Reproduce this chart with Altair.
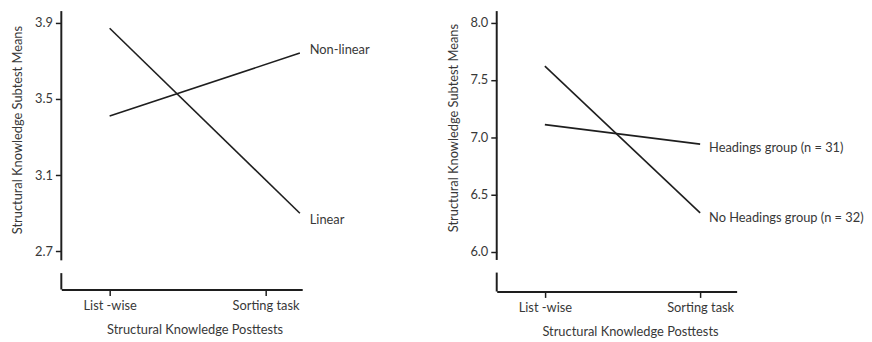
import altair as alt
import pandas as pd

# ---- data ----
posttests = ["List -wise", "Sorting task"]

left_groups = ["Linear", "Non-linear"]
left_linear = [3.87, 2.90]
left_nonlinear = [3.41, 3.74]
left_x = [0, 1.22]          # the left panel's lines run past the "Sorting task" tick
left_ticks = [2.7, 3.1, 3.5, 3.9]

right_groups = ["No Headings group (n = 32)", "Headings group (n = 31)"]
right_noheadings = [7.62, 6.34]
right_headings = [7.11, 6.94]
right_x = [0, 1]
right_ticks = [6.0, 6.5, 7.0, 7.5, 8.0]

FONT = "Lato"
INK = "#1e1e1e"
TXT = "#383838"
LBL = 13
TTL = 13

label_expr = "datum.value == 0 ? '%s' : '%s'" % (posttests[0], posttests[1])


def make_df(groups, series, xs):
    rows = []
    for g, vals in zip(groups, series):
        for x, v in zip(xs, vals):
            rows.append({"group": g, "pos": x, "value": v})
    return pd.DataFrame(rows)


def panel(groups, series, xs, ticks, ydomain, ybreak, label_offsets, width, height,
          title_y):
    df = make_df(groups, series, xs)
    xscale = alt.Scale(domain=[-0.31, 1.235], nice=False, zero=False)
    yscale = alt.Scale(domain=ydomain, nice=False, zero=False)

    x_axis = alt.Axis(values=[0, 1], labelExpr=label_expr,
                      title="Structural Knowledge Posttests",
                      domain=True, domainColor=INK, domainWidth=2,
                      ticks=True, tickColor=INK, tickWidth=1.5, tickSize=6,
                      labelFont=FONT, labelFontSize=LBL, labelColor=TXT,
                      labelPadding=4, titleFont=FONT, titleFontSize=TTL,
                      titleFontWeight="normal", titleColor=TXT, titlePadding=12,
                      titleX=135, grid=False)
    y_axis = alt.Axis(values=ticks, format=".1f",
                      title="Structural Knowledge Subtest Means",
                      domain=False, ticks=True, tickColor=INK, tickWidth=1.5,
                      tickSize=6, labelFont=FONT, labelFontSize=LBL,
                      labelColor=TXT, labelPadding=3, titleFont=FONT,
                      titleFontSize=TTL, titleFontWeight="normal",
                      titleColor=TXT, titlePadding=10, titleY=title_y,
                      grid=False)

    X = lambda f: alt.X(f, scale=xscale, axis=x_axis)
    Y = lambda f: alt.Y(f, scale=yscale, axis=y_axis)

    lines = alt.Chart(df).mark_line(color=INK, strokeWidth=1.6).encode(
        x=X("pos:Q"), y=Y("value:Q"), detail="group:N",
    )

    # broken y-axis line (two segments)
    seg = pd.DataFrame({"y0": [ydomain[1], ybreak[1]],
                        "y1": [ybreak[0], ydomain[0]]})
    axis_rule = alt.Chart(seg).mark_rule(color=INK, strokeWidth=2).encode(
        x=alt.value(0), y=Y("y0:Q"), y2="y1:Q",
    )

    layers = [axis_rule, lines]
    ends = df[df["pos"] == xs[1]]
    for g, (dx, dy) in zip(groups, label_offsets):
        sub = ends[ends["group"] == g]
        layers.append(
            alt.Chart(sub).mark_text(align="left", baseline="middle", dx=dx,
                                     dy=dy, font=FONT, fontSize=LBL,
                                     color=TXT).encode(
                x=X("pos:Q"), y=Y("value:Q"), text="group:N",
            )
        )
    return alt.layer(*layers).properties(width=width, height=height)


left = panel(left_groups, [left_linear, left_nonlinear], left_x, left_ticks,
             [2.5, 3.96], [2.653, 2.586], [(10, 7), (10, -3)], 244, 282, 120)
right = panel(right_groups, [right_noheadings, right_headings], right_x,
              right_ticks, [5.655, 8.1], [5.93, 5.82], [(9, 5), (9, 4)],
              243, 284, 118)

chart = alt.hconcat(left, right, spacing=77).properties(
    padding={"left": 3, "top": 0, "right": 0, "bottom": 0}
).configure(
    background="white", view=alt.ViewConfig(strokeWidth=0)
)

chart.save("out.html", embed_options={"renderer": "svg", "actions": False})
